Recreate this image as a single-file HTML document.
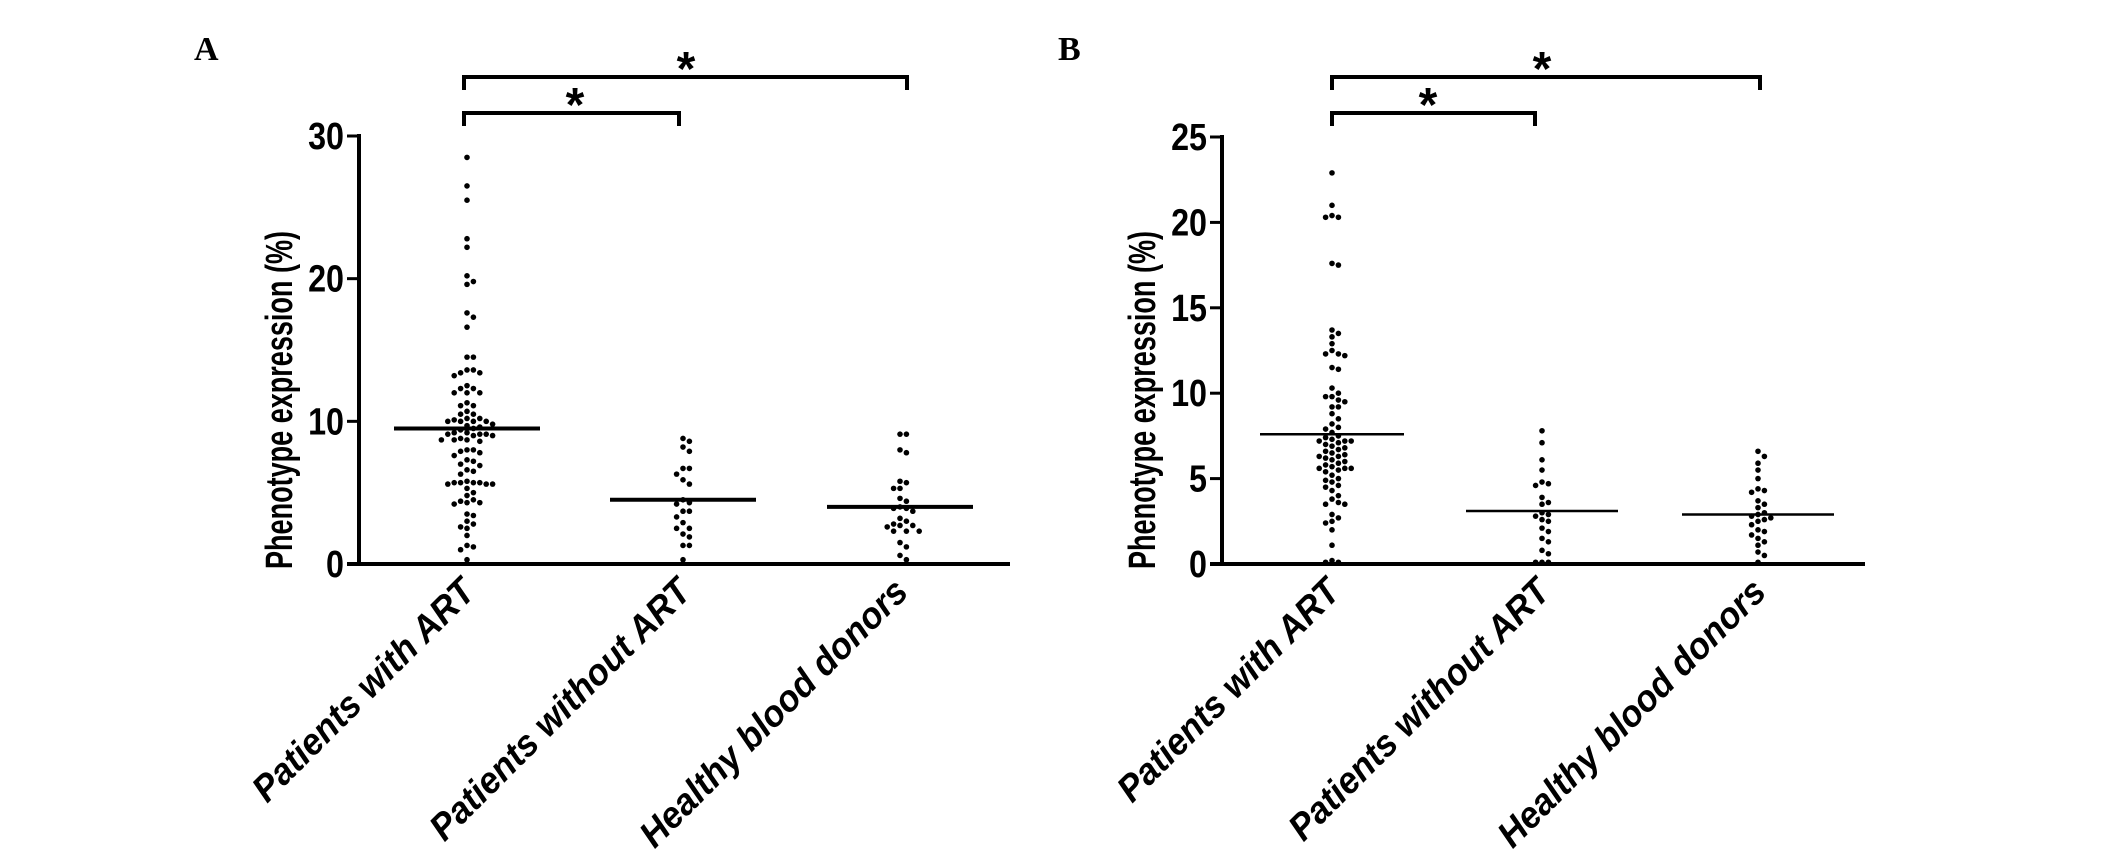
<!DOCTYPE html>
<html><head><meta charset="utf-8"><style>
body{margin:0;background:#fff}
svg{display:block}
text{font-family:"Liberation Sans",Arial,sans-serif;font-weight:bold;fill:#000}
</style></head><body>
<svg id="fig" width="2126" height="854" viewBox="0 0 2126 854" xmlns="http://www.w3.org/2000/svg">
<text x="194" y="60" style="font-family:'Liberation Serif',serif;font-size:34px">A</text>
<text x="1058" y="60" style="font-family:'Liberation Serif',serif;font-size:34px">B</text>
</svg>
<script>
const categories = ["Patients with ART","Patients without ART","Healthy blood donors"];
const aWithART = [28.5,26.5,25.5,22.8,22.2,20.2,19.8,19.6,17.6,17.3,16.6,14.5,14.5,13.6,13.6,13.4,13.4,13.2,12.5,12.3,12.3,12.0,12.0,12.0,11.3,11.1,11.1,10.7,10.5,10.5,10.2,10.2,10.1,10.0,10.0,10.0,10.0,9.8,9.7,9.6,9.5,9.4,9.2,9.2,9.1,9.1,9.1,9.0,9.0,8.8,8.7,8.7,8.7,8.6,8.0,8.0,7.9,7.8,7.6,7.3,7.2,7.0,6.9,6.6,6.5,6.3,5.8,5.7,5.7,5.7,5.7,5.6,5.6,5.6,5.3,5.0,4.8,4.5,4.4,4.3,4.3,4.2,3.5,3.4,3.0,2.8,2.6,2.5,2.0,1.3,1.2,1.0,0.3];
const aWithoutART = [8.8,8.6,8.2,7.9,6.7,6.7,6.3,5.9,5.6,4.5,4.3,4.2,3.7,3.7,3.3,2.9,2.5,2.5,2.1,1.9,1.3,1.3,0.3];
const aHealthy = [9.1,9.1,8.0,7.8,5.8,5.7,5.3,5.3,4.6,4.4,4.0,3.9,3.9,3.7,3.2,3.0,2.8,2.7,2.7,2.6,2.3,2.3,2.3,1.5,1.2,0.6,0.3];
const aMedians = [9.5,4.5,4.0];
const aTicks = [0,10,20,30];
const bWithART = [22.9,21.0,20.4,20.3,20.3,17.6,17.5,13.7,13.5,13.3,12.9,12.5,12.3,12.3,12.2,11.5,11.4,10.3,10.0,9.8,9.8,9.6,9.5,9.2,9.2,8.8,8.5,8.2,8.0,7.9,7.7,7.5,7.4,7.3,7.2,7.2,7.2,7.1,7.0,6.9,6.8,6.7,6.6,6.5,6.4,6.3,6.3,6.2,6.1,6.0,5.9,5.8,5.7,5.6,5.6,5.6,5.5,5.4,5.2,5.0,4.9,4.8,4.6,4.5,4.3,4.0,3.8,3.6,3.5,3.5,2.9,2.7,2.5,2.4,2.0,1.1,0.2,0.1,0.1];
const bWithoutART = [7.8,7.1,6.1,5.5,4.8,4.7,4.6,3.9,3.6,3.5,3.0,2.9,2.8,2.6,2.5,2.1,1.9,1.5,1.3,0.8,0.6,0.1,0.1,0.1];
const bHealthy = [6.6,6.3,5.9,5.5,5.0,4.4,4.3,4.2,3.7,3.5,3.3,3.0,2.9,2.8,2.7,2.6,2.5,2.3,2.0,1.9,1.7,1.5,1.3,1.1,0.7,0.5,0.1];
const bMedians = [7.6,3.1,2.9];
const bTicks = [0,5,10,15,20,25];

const NS="http://www.w3.org/2000/svg";
const svg=document.getElementById('fig');
function mk(tag,attrs,parent){const e=document.createElementNS(NS,tag);for(const k in attrs)e.setAttribute(k,attrs[k]);(parent||svg).appendChild(e);return e;}

function panel(p){
  const g=mk('g',{});
  
  
  const y=v=>p.y0-(v-0)*(p.y0-p.yTop)/p.yMax;
  const x=i=>p.cats[i];
  const ya=mk('line',{x1:p.ax,y1:p.yTop-2,x2:p.ax,y2:p.y0+2,stroke:'#000','stroke-width':4},g);
  
  
  const xa=mk('line',{x1:p.ax-12,y1:p.y0,x2:p.xEnd,y2:p.y0,stroke:'#000','stroke-width':4},g);
  
  
  p.ticks.forEach(t=>{
    const tl=mk('line',{x1:p.ax-12,y1:y(t),x2:p.ax,y2:y(t),stroke:'#000','stroke-width':3},g);
    
    
    const tt=mk('text',{x:0,y:0,'text-anchor':'end','font-size':38,transform:`translate(${p.ax-15},${y(t)+13}) scale(0.85,1)`},g);
    tt.textContent=t;
    
    
  });
  const yt=mk('text',{x:0,y:0,'text-anchor':'middle','font-size':38,transform:`translate(${p.titleX},${p.titleY}) rotate(-90)`,textLength:338,lengthAdjust:'spacingAndGlyphs'},g);
  yt.textContent='Phenotype expression (%)';
  
  
  categories.forEach((c,i)=>{
    const ct=mk('text',{x:0,y:0,'text-anchor':'end','font-size':37,'font-style':'italic',transform:`translate(${x(i)+10},${p.y0+30}) rotate(-45) scale(0.95,1)`},g);
    ct.textContent=c;
    
    
  });
  p.series.forEach((vals,i)=>{
    const placed=[];const sp=6.4;
    vals.forEach(v=>{
      const cy=y(v);let off=0;
      for(let k=0;k<40;k++){
        const o=(k%2? 1:-1)*Math.ceil(k/2)*sp;
        if(placed.every(q=>Math.hypot(q[0]-o,q[1]-cy)>=sp-0.5)){off=o;break;}
      }
      placed.push([off,cy]);
      const d=mk('circle',{cx:x(i)+off,cy:cy,r:2.8,fill:'#000'},g);
      
      
    });
    const m=mk('line',{x1:x(i)-p.mw[i],y1:y(p.medians[i]),x2:x(i)+p.mw[i],y2:y(p.medians[i]),stroke:'#000','stroke-width':p.mlw},g);
    
    
  });
  p.brackets.forEach(b=>{
    const br=mk('path',{d:`M${b.x1},${b.y+13} V${b.y} H${b.x2} V${b.y+13}`,fill:'none',stroke:'#000','stroke-width':4},g);
    
    
    const st=mk('text',{x:b.sx,y:b.y+8,'text-anchor':'middle','font-size':48},g);
    st.textContent='*';
    
    
  });
}
panel({id:'panel-a',ax:359,y0:564,yTop:136,yMax:30,xEnd:1010,cats:[467,683,900],ticks:aTicks,
  series:[aWithART,aWithoutART,aHealthy],medians:aMedians,mw:[73,73,73],mlw:4,
  titleX:292,titleY:400,
  brackets:[{x1:464,x2:907,y:77,sx:686},{x1:464,x2:679,y:113,sx:575}]});
panel({id:'panel-b',ax:1222,y0:564,yTop:137,yMax:25,xEnd:1865,cats:[1332,1542,1758],ticks:bTicks,
  series:[bWithART,bWithoutART,bHealthy],medians:bMedians,mw:[72,76,76],mlw:2.5,
  titleX:1155,titleY:400,
  brackets:[{x1:1332,x2:1760,y:77,sx:1542},{x1:1332,x2:1535,y:113,sx:1428}]});
</script>
</body></html>
